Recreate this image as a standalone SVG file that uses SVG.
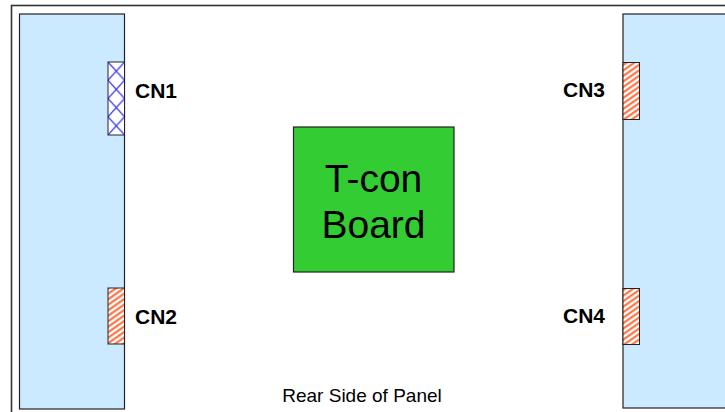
<svg xmlns="http://www.w3.org/2000/svg" width="725" height="412" viewBox="0 0 725 412">
<defs>
<pattern id="cross" x="108" y="62" width="16.5" height="18.25" patternUnits="userSpaceOnUse">
<rect width="16.5" height="18.25" fill="#ffffff"/>
<path d="M0,0 L16.5,18.25 M16.5,0 L0,18.25" stroke="#3333ff" stroke-width="1.2" fill="none"/>
</pattern>
<pattern id="hatch" width="4.5" height="4.5" patternUnits="userSpaceOnUse" patternTransform="rotate(-35)">
<rect width="4.5" height="4.5" fill="#ffffff"/>
<line x1="0" y1="1.2" x2="4.5" y2="1.2" stroke="#ff6633" stroke-width="2"/>
</pattern>
<style>
.panel{fill:#cceaff;stroke:#222;stroke-width:1.2}
.conn{stroke:#222;stroke-width:1}
.lbl{font-family:"Liberation Sans",Arial,sans-serif;font-weight:bold;font-size:21px;fill:#000}
.big{font-family:"Liberation Sans",Arial,sans-serif;font-size:39px;fill:#000;text-anchor:middle}
.cap{font-family:"Liberation Sans",Arial,sans-serif;font-size:19px;fill:#000;text-anchor:middle}
</style>
</defs>
<rect x="0" y="0" width="725" height="412" fill="#ffffff"/>
<g id="frame">
<rect x="11.5" y="5.5" width="730" height="420" fill="none" stroke="#333" stroke-width="1.6"/>
</g>
<g id="left-panel">
<rect class="panel" x="19.5" y="14" width="105" height="395"/>
</g>
<g id="right-panel">
<rect class="panel" x="623" y="14" width="120" height="394"/>
</g>
<g id="cn1">
<rect class="conn" x="108" y="62" width="16.5" height="73" fill="url(#cross)"/>
<text class="lbl" x="135" y="98">CN1</text>
</g>
<g id="cn2">
<rect class="conn" x="108" y="288" width="16.5" height="56" fill="url(#hatch)"/>
<text class="lbl" x="135" y="324">CN2</text>
</g>
<g id="cn3">
<rect class="conn" x="623" y="62.5" width="16.5" height="57" fill="url(#hatch)"/>
<text class="lbl" x="563" y="96.5">CN3</text>
</g>
<g id="cn4">
<rect class="conn" x="623" y="288.5" width="16.5" height="56" fill="url(#hatch)"/>
<text class="lbl" x="563" y="322.5">CN4</text>
</g>
<g id="tcon">
<rect x="293.5" y="127" width="160.5" height="145" fill="#33cc33" stroke="#222" stroke-width="1.2"/>
<text class="big" x="373.5" y="191.5">T-con</text>
<text class="big" x="373.5" y="238">Board</text>
</g>
<g id="caption">
<text class="cap" x="362" y="402">Rear Side of Panel</text>
</g>
<g id="connectors"></g>
</svg>
